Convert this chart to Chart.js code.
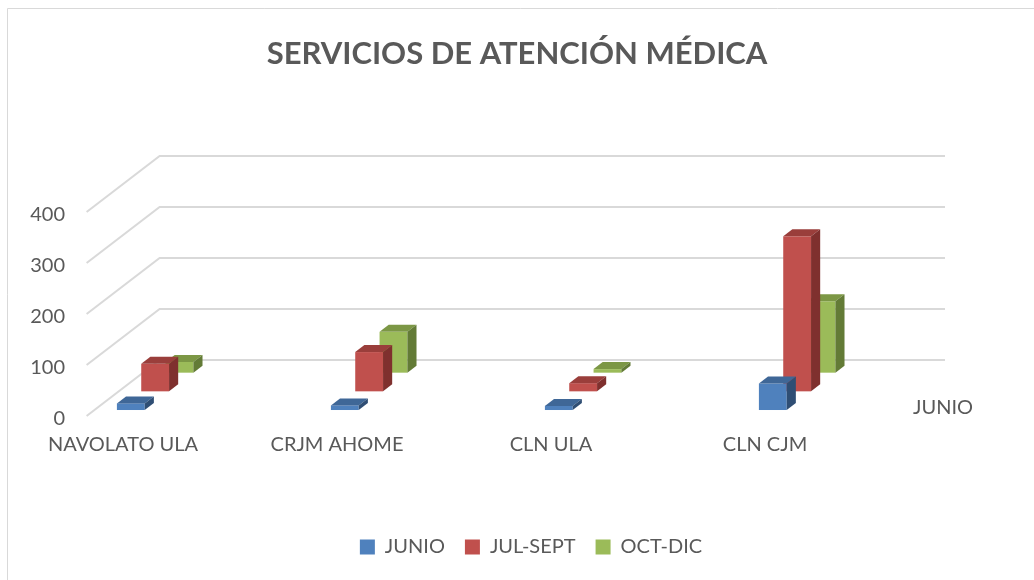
<!DOCTYPE html>
<html>
<head>
<meta charset="utf-8">
<script src="https://cdn.jsdelivr.net/npm/chart.js@4"></script>
<style>
  body { margin: 0; background: #fff; }
  #wrap { width: 1034px; height: 580px; }
</style>
</head>
<body>
<div id="wrap"><canvas id="chart"></canvas></div>
<script>
const categorias = ['NAVOLATO ULA', 'CRJM AHOME', 'CLN ULA', 'CLN CJM'];
const series = ['JUNIO', 'JUL-SEPT', 'OCT-DIC'];
const junio = [13, 9, 8, 52];
const julSept = [54, 77, 16, 304];
const octDic = [21, 80, 7, 140];
const yTicks = [0, 100, 200, 300, 400];

const frente = ['#4F81BD', '#C0504D', '#9BBB59'];
const arriba = ['#3F6797', '#9A3E3B', '#7C9745'];
const lado = ['#2F4E74', '#7F302E', '#637B36'];

const texto = '#595959';
const fuente = 'Lato';

// profundidad del piso 3D en px
const fondoX = 73, fondoY = 56;

function poly(ctx, color, pts) {
  ctx.fillStyle = color;
  ctx.beginPath();
  ctx.moveTo(pts[0][0], pts[0][1]);
  for (let i = 1; i < pts.length; i++) ctx.lineTo(pts[i][0], pts[i][1]);
  ctx.closePath();
  ctx.fill();
}

const efecto3d = {
  id: 'efecto3d',
  beforeDraw(chart) {
    const ctx = chart.ctx;
    ctx.save();
    ctx.fillStyle = '#fff';
    ctx.fillRect(0, 0, chart.width, chart.height);
    ctx.strokeStyle = '#d9d9d9';
    ctx.lineWidth = 1;
    ctx.beginPath();
    ctx.moveTo(7.5, chart.height);
    ctx.lineTo(7.5, 8.5);
    ctx.lineTo(chart.width, 8.5);
    ctx.stroke();
    ctx.restore();
  },
  afterLayout(chart) {
    chart.legend.left += 14;
    chart.legend.right += 14;
  },
  beforeDatasetsDraw(chart) {
    const ctx = chart.ctx;
    const x = chart.scales.x, y = chart.scales.y;
    const paso = x.getPixelForValue(1) - x.getPixelForValue(0);
    const muroX = x.getPixelForValue(0) - paso * 0.17;
    const derecha = x.getPixelForValue(categorias.length - 1) + paso / 2 + fondoX;
    ctx.save();
    // rejilla: diagonal en la pared izquierda, horizontal en el fondo
    ctx.strokeStyle = '#d9d9d9';
    ctx.lineWidth = 2;
    yTicks.forEach(v => {
      const py = y.getPixelForValue(v);
      ctx.beginPath();
      ctx.moveTo(muroX, py);
      ctx.lineTo(muroX + fondoX, py - fondoY);
      ctx.lineTo(derecha, py - fondoY);
      ctx.stroke();
    });
    // barras de atras hacia adelante
    const tx = fondoX * 0.125, ty = fondoY * 0.125;
    for (let d = chart.data.datasets.length - 1; d >= 0; d--) {
      const meta = chart.getDatasetMeta(d);
      const f = 0.107 + d / 3;
      const ox = fondoX * f, oy = fondoY * f;
      meta.data.forEach(bar => {
        const p = bar.getProps(['x', 'y', 'base', 'width'], true);
        const x0 = p.x - p.width / 2 + ox, x1 = p.x + p.width / 2 + ox;
        const yt = p.y - oy, yb = p.base - oy;
        ctx.fillStyle = frente[d];
        ctx.fillRect(x0, yt, x1 - x0, yb - yt);
        poly(ctx, arriba[d], [[x0, yt], [x1, yt], [x1 + tx, yt - ty], [x0 + tx, yt - ty]]);
        poly(ctx, lado[d], [[x1, yt], [x1, yb], [x1 + tx, yb - ty], [x1 + tx, yt - ty]]);
      });
    }
    // etiqueta del eje de profundidad
    ctx.fillStyle = texto;
    ctx.font = '20px ' + fuente;
    ctx.textAlign = 'center';
    ctx.textBaseline = 'middle';
    ctx.fillText(series[0], derecha - 2, y.getPixelForValue(0) - 8);
    ctx.restore();
    return false;
  }
};

new Chart(document.getElementById('chart'), {
  type: 'bar',
  data: {
    labels: categorias,
    datasets: [
      { label: series[0], data: junio, backgroundColor: frente[0] },
      { label: series[1], data: julSept, backgroundColor: frente[1] },
      { label: series[2], data: octDic, backgroundColor: frente[2] }
    ]
  },
  options: {
    responsive: true,
    maintainAspectRatio: false,
    animation: false,
    datasets: { bar: { grouped: false, categoryPercentage: 1, barPercentage: 0.13 } },
    layout: { padding: { bottom: 13 } },
    plugins: {
      title: {
        display: true,
        text: 'SERVICIOS DE ATENCIÓN MÉDICA',
        color: texto,
        font: { family: fuente, size: 31, weight: 'bold' },
        padding: { top: 35.4, bottom: 139.4 }
      },
      legend: {
        position: 'bottom',
        labels: { boxWidth: 15, boxHeight: 15, padding: 20, color: texto, font: { family: fuente, size: 20 } }
      },
      tooltip: { enabled: false }
    },
    scales: {
      x: {
        offset: false,
        grid: { display: false, drawTicks: false },
        border: { display: false },
        ticks: { color: texto, font: { family: fuente, size: 20 }, padding: 17, maxRotation: 0, autoSkip: false },
        afterFit: s => { s.height = 101; }
      },
      y: {
        min: 0,
        max: 400,
        grid: { display: false, drawTicks: false },
        border: { display: false },
        ticks: { stepSize: 100, color: texto, font: { family: fuente, size: 20 }, padding: 58, labelOffset: 3 },
        afterFit: s => { s.width = 123; }
      },
      y2: {
        type: 'linear',
        position: 'right',
        grid: { display: false },
        border: { display: false },
        ticks: { display: false },
        afterFit: s => { s.width = 269; }
      }
    }
  },
  plugins: [efecto3d]
});
</script>
</body>
</html>
